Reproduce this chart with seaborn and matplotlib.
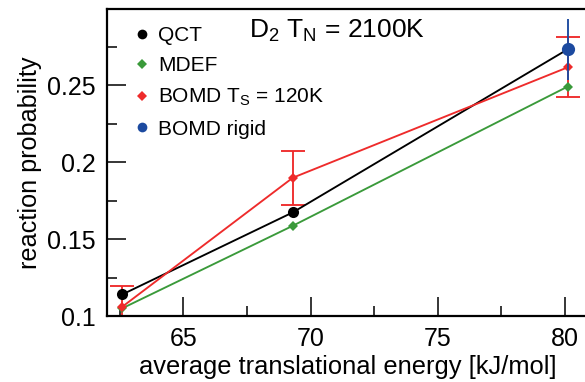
import matplotlib
matplotlib.use("Agg")
import matplotlib.pyplot as plt
from matplotlib.lines import Line2D
from matplotlib.ticker import MultipleLocator
import seaborn as sns
import pandas as pd

sns.set_theme(style="ticks")
plt.rcParams["font.family"] = ["Liberation Sans", "DejaVu Sans"]
plt.rcParams["mathtext.fontset"] = "custom"
plt.rcParams["mathtext.rm"] = "Liberation Sans"
plt.rcParams["mathtext.it"] = "Liberation Sans"
plt.rcParams["mathtext.default"] = "regular"
plt.rcParams["text.color"] = "black"
plt.rcParams["axes.labelcolor"] = "black"
plt.rcParams["xtick.color"] = "black"
plt.rcParams["ytick.color"] = "black"

# average translational energy [kJ/mol]
energy = [62.6, 69.3, 80.1]

qct = [0.114, 0.1673, 0.2732]
mdef = [0.105, 0.1586, 0.249]
bomd_ts = [0.106, 0.1898, 0.2615]
bomd_ts_err = [0.0137, 0.0175, 0.0195]
rigid_energy = [80.1]
bomd_rigid = [0.2732]
bomd_rigid_err = [0.0198]

labels = ["QCT", "MDEF", r"BOMD T$_{S}$ = 120K", "BOMD rigid"]
colors = ["black", "#3a9a3a", "#ee2b2b", "#1c4aa0"]

W, H = 585, 382
fig = plt.figure(figsize=(W / 100, H / 100), dpi=100)
ax = fig.add_axes([107 / W, 66 / H, 481 / W, 307 / H])

series = [
    (energy, qct, colors[0], "o", 8),
    (energy, mdef, colors[1], "D", 5),
    (energy, bomd_ts, colors[2], "D", 5),
]
for xs, ys, col, mk, ms in series:
    df = pd.DataFrame({"E": xs, "P": ys})
    sns.lineplot(data=df, x="E", y="P", ax=ax, color=col, marker=mk,
                 markersize=ms, markeredgewidth=0, linewidth=1.35, zorder=3)

# error bars
ax.errorbar(energy, bomd_ts, yerr=bomd_ts_err, fmt="none", ecolor=colors[2],
            elinewidth=1.35, capsize=8.5, capthick=1.35, zorder=2)
ax.errorbar(rigid_energy, bomd_rigid, yerr=bomd_rigid_err, fmt="o",
            color=colors[3], ecolor=colors[3], markersize=9.5,
            markeredgewidth=0, elinewidth=1.35, capsize=8.5, capthick=1.35,
            zorder=4)

ax.set_xlim(62.0, 80.9)
ax.set_ylim(0.1, 0.2994)
ax.xaxis.set_minor_locator(MultipleLocator(2.5))
ax.yaxis.set_minor_locator(MultipleLocator(0.025))
ax.set_yticks([0.1, 0.15, 0.2, 0.25])
ax.set_yticklabels(["0.1", "0.15", "0.2", "0.25"])
ax.set_xticks([65, 70, 75, 80])

ax.tick_params(which="major", direction="in", length=14, width=1.1,
               labelsize=18, top=False, right=False)
ax.tick_params(axis="y", which="major", pad=8)
ax.tick_params(axis="x", which="major", pad=8)
ax.tick_params(which="minor", direction="in", length=7, width=1.1,
               top=False, right=False)

for side in ["left", "bottom", "top"]:
    ax.spines[side].set_linewidth(1.6)
    ax.spines[side].set_color("black")
ax.spines["right"].set_visible(False)

ax.set_xlabel("average translational energy [kJ/mol]", fontsize=18.4, labelpad=3)
ax.set_ylabel("reaction probability", fontsize=18.2, labelpad=4)

ax.text(0.479, 0.93, r"D$_2$ T$_N$ = 2100K", transform=ax.transAxes,
        ha="center", va="center", fontsize=19)

handles = [
    Line2D([], [], linestyle="none", marker="o", color=colors[0], markersize=7, markeredgewidth=0),
    Line2D([], [], linestyle="none", marker="D", color=colors[1], markersize=5, markeredgewidth=0),
    Line2D([], [], linestyle="none", marker="D", color=colors[2], markersize=5, markeredgewidth=0),
    Line2D([], [], linestyle="none", marker="o", color=colors[3], markersize=7, markeredgewidth=0),
]
ax.legend(handles, labels, loc="upper left", bbox_to_anchor=(0.055, 0.945),
          frameon=False, fontsize=15, handlelength=0.8, handletextpad=0.4,
          labelspacing=0.55, borderpad=0, borderaxespad=0)

fig.savefig("out.png", dpi=100)
